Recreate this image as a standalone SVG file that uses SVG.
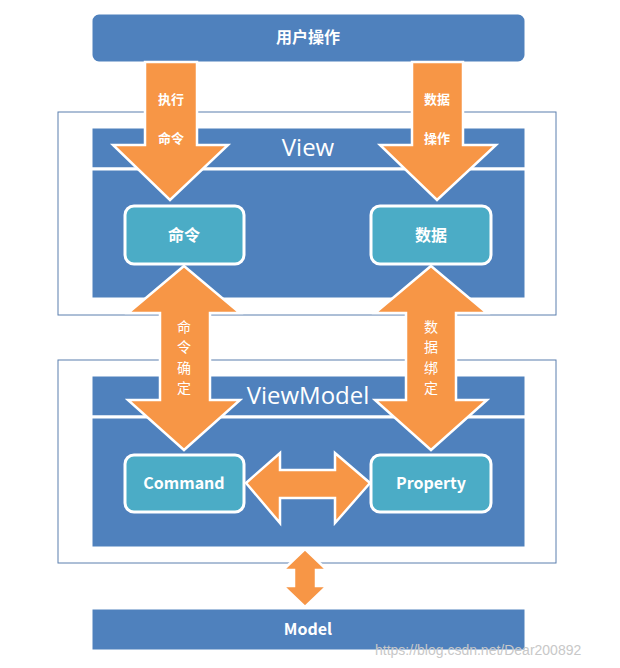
<svg xmlns="http://www.w3.org/2000/svg" width="620" height="668" viewBox="0 0 620 668">
<style>
.bar{fill:#4f81bd;stroke:#fff;stroke-width:3}
.frame{fill:none;stroke:#5b7fae;stroke-width:1}
.node{fill:#4bacc6;stroke:#fff;stroke-width:3}
.arr{fill:#f79646;stroke:#fff;stroke-width:2.5;stroke-linejoin:miter}
.t{font-family:"Noto Sans CJK SC","Liberation Sans",sans-serif;fill:#fff;text-anchor:middle}
.b{font-weight:bold;font-size:16px}
.s{font-size:13px;font-weight:bold}
.h{font-family:"Open Sans","Liberation Sans",sans-serif;font-size:24px;fill:#fff;text-anchor:middle}
</style>
<rect width="620" height="668" fill="#fff"/>
<g id="frames">
<rect class="frame" x="58" y="112" width="498" height="203"/>
<rect class="frame" x="58" y="360" width="498" height="203"/>
</g>
<g id="user"><rect class="bar" x="91" y="13" width="435" height="50" rx="8"/><text class="t b" x="308" y="43">用户操作</text></g>
<g id="view">
<rect class="bar" x="91" y="127" width="435" height="42"/>
<rect class="bar" x="91" y="169" width="435" height="130"/>
<text class="h" x="308" y="156">View</text>
</g>
<g id="viewmodel">
<rect class="bar" x="91" y="375" width="435" height="42"/>
<rect class="bar" x="91" y="417" width="435" height="131"/>
<text class="h" x="308" y="404">ViewModel</text>
</g>
<g id="model"><rect class="bar" x="91" y="608" width="435" height="43"/><text class="t b" x="308" y="635" font-family="Open Sans">Model</text></g>
<g id="connectors">
<path class="arr" d="M145,62 H197 V145 H228 L170,200 L113,145 H145 Z"/>
<path class="arr" d="M412,62 H463 V145 H496 L437,200 L380,145 H412 Z"/>
<path class="arr" d="M184,266 L240,313 H210 V400 H240 L184,450 L128,400 H160 V313 H128 Z"/>
<path class="arr" d="M431,266 L487,313 H456 V400 H487 L431,450 L375,400 H406 V313 H375 Z"/>
<path class="arr" d="M246,483 L280,453 V470 H335 V453 L370,483 L335,523 V498 H280 V523 Z"/>
<path class="arr" d="M305,549 L327,570 H316 V586 H327 L305,607 L283,586 H294 V570 H283 Z"/>
<text class="t s" x="171" y="104">执行</text>
<text class="t s" x="171" y="143">命令</text>
<text class="t s" x="437" y="104">数据</text>
<text class="t s" x="437" y="143">操作</text>
<g class="t" font-size="14">
<text x="184" y="332">命</text><text x="184" y="352">令</text><text x="184" y="373">确</text><text x="184" y="393">定</text>
<text x="431" y="332">数</text><text x="431" y="352">据</text><text x="431" y="373">绑</text><text x="431" y="393">定</text>
</g>
</g>
<g id="n-cmd-cn"><rect class="node" x="125" y="206" width="119" height="58" rx="9"/><text class="t b" x="184" y="241">命令</text></g>
<g id="n-data-cn"><rect class="node" x="371" y="206" width="120" height="58" rx="9"/><text class="t b" x="431" y="241">数据</text></g>
<g id="n-command"><rect class="node" x="125" y="455" width="119" height="57" rx="9"/><text class="t b" x="184" y="489" font-family="Open Sans">Command</text></g>
<g id="n-property"><rect class="node" x="371" y="455" width="120" height="57" rx="9"/><text class="t b" x="431" y="489" font-family="Open Sans">Property</text></g>
<text x="375" y="655" font-family="Liberation Sans,sans-serif" font-size="14" fill="#c8c8c8">https://blog.csdn.net/Dear200892</text>
</svg>
